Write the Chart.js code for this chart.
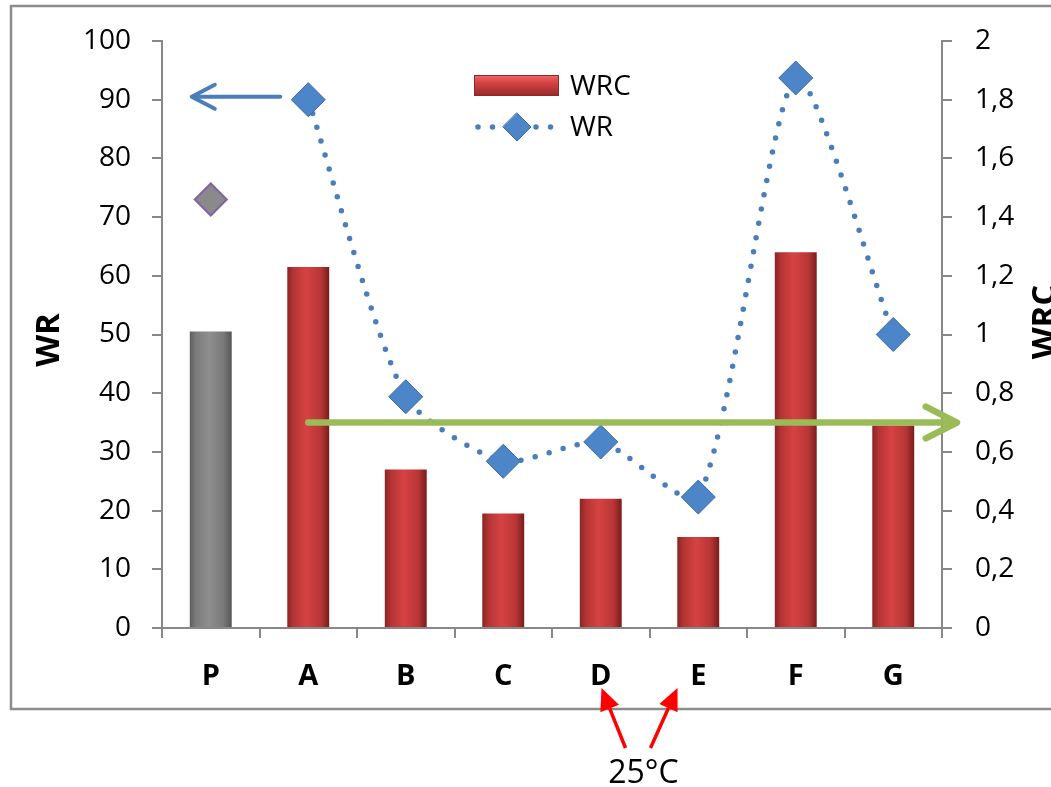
<!DOCTYPE html>
<html>
<head>
<meta charset="utf-8">
<script src="https://cdn.jsdelivr.net/npm/chart.js@4.4.1/dist/chart.umd.min.js"></script>
<style>
  html, body { margin: 0; padding: 0; background: #fff; }
  #wrap { width: 1051px; height: 787px; }
</style>
</head>
<body>
<div id="wrap"><canvas id="chart" width="1051" height="787"></canvas></div>
<script>
// values
var categories = ['P', 'A', 'B', 'C', 'D', 'E', 'F', 'G'];
var wrcValues = [1.01, 1.23, 0.54, 0.39, 0.44, 0.31, 1.28, 0.69];   // bars, right axis
var wrValues = [null, 90, 39.4, 28.4, 31.7, 22.3, 93.7, 50];        // dotted line, left axis
var wrReference = [73, null, null, null, null, null, null, null];   // lone marker over P
var wrcArrowLevel = 0.7;
var wrArrowLevel = 90.5;
var tempLabel = '25°C';

var FONT = "'Open Sans', 'DejaVu Sans', sans-serif";

function commaNum(v) {
    var r = Math.round(v * 10) / 10;
    return r.toString().replace('.', ',');
}

// glossy cylinder look for the bars
function barFill(context) {
    var chart = context.chart;
    var xs = chart.scales.x;
    var gray = context.dataIndex === 0;
    var flat = gray ? '#7c7c7c' : '#c0393b';
    if (!xs || context.type !== 'data') return flat;
    var cx = xs.getPixelForValue(context.dataIndex);
    if (!isFinite(cx)) return flat;
    var half = 21;
    var g = chart.ctx.createLinearGradient(cx - half, 0, cx + half, 0);
    if (gray) {
        g.addColorStop(0, '#5e5e5e');
        g.addColorStop(0.15, '#7c7c7c');
        g.addColorStop(0.45, '#8e8e8e');
        g.addColorStop(0.8, '#7a7a7a');
        g.addColorStop(1, '#555555');
    } else {
        g.addColorStop(0, '#8a2424');
        g.addColorStop(0.15, '#b53434');
        g.addColorStop(0.45, '#d64242');
        g.addColorStop(0.8, '#b83636');
        g.addColorStop(1, '#7a1c1c');
    }
    return g;
}

function arrowHeadOpen(ctx, tx, ty, ang, len, spread) {
    ctx.beginPath();
    ctx.moveTo(tx + Math.cos(ang + spread) * len, ty + Math.sin(ang + spread) * len);
    ctx.lineTo(tx, ty);
    ctx.lineTo(tx + Math.cos(ang - spread) * len, ty + Math.sin(ang - spread) * len);
    ctx.stroke();
}

function diamond(ctx, x, y, r) {
    ctx.beginPath();
    ctx.moveTo(x, y - r);
    ctx.lineTo(x + r, y);
    ctx.lineTo(x, y + r);
    ctx.lineTo(x - r, y);
    ctx.closePath();
}

var frame = {
    id: 'frame',
    beforeDraw: function(chart) {
        var ctx = chart.ctx;
        ctx.save();
        ctx.fillStyle = '#fff';
        ctx.fillRect(0, 0, chart.width, chart.height);
        ctx.strokeStyle = '#8c8c8c';
        ctx.lineWidth = 2.5;
        ctx.strokeRect(11, 6, 1100, 703);
        ctx.restore();
    }
};

var decorations = {
    id: 'decorations',
    afterDatasetsDraw: function(chart) {
        var ctx = chart.ctx;
        var xs = chart.scales.x, ys = chart.scales.y, y1 = chart.scales.y1;
        var area = chart.chartArea;
        ctx.save();

        // axis titles
        ctx.fillStyle = '#000';
        ctx.font = 'bold 33px ' + FONT;
        ctx.textAlign = 'center';
        ctx.textBaseline = 'middle';
        ctx.save();
        ctx.translate(50, 340);
        ctx.rotate(-Math.PI / 2);
        ctx.fillText('WR', 0, 0);
        ctx.restore();
        ctx.save();
        ctx.translate(1046, 322);
        ctx.rotate(-Math.PI / 2);
        ctx.fillText('WRC', 0, 0);
        ctx.restore();

        // legend
        var lx = 474, ly = 75;
        var lg = ctx.createLinearGradient(0, ly, 0, ly + 21);
        lg.addColorStop(0, '#f06a6a');
        lg.addColorStop(0.35, '#d84444');
        lg.addColorStop(1, '#962828');
        ctx.fillStyle = lg;
        ctx.fillRect(lx, ly, 85, 21);
        ctx.strokeStyle = '#8a2a2a';
        ctx.lineWidth = 1;
        ctx.strokeRect(lx + 0.5, ly + 0.5, 84, 20);

        ctx.strokeStyle = '#4a7ebb';
        ctx.lineWidth = 5.5;
        ctx.lineCap = 'round';
        ctx.setLineDash([0, 14.5]);
        ctx.beginPath();
        ctx.moveTo(lx + 4, 127);
        ctx.lineTo(lx + 82, 127);
        ctx.stroke();
        ctx.setLineDash([]);
        diamond(ctx, lx + 43, 127, 14);
        ctx.fillStyle = '#4d86c8';
        ctx.fill();
        ctx.strokeStyle = '#3a6aa8';
        ctx.lineWidth = 1;
        ctx.stroke();

        ctx.fillStyle = '#000';
        ctx.font = '28px ' + FONT;
        ctx.textAlign = 'left';
        ctx.textBaseline = 'middle';
        ctx.fillText('WRC', 570, 87);
        ctx.fillText('WR', 570, 128);

        // blue arrow pointing at the WR axis
        var by = ys.getPixelForValue(wrArrowLevel);
        var bx0 = xs.getPixelForValue(1) - 28;
        var bx1 = xs.getPixelForValue(0) - 19;
        ctx.strokeStyle = '#4a7ebb';
        ctx.lineWidth = 4;
        ctx.lineCap = 'round';
        ctx.lineJoin = 'round';
        ctx.beginPath();
        ctx.moveTo(bx0, by);
        ctx.lineTo(bx1 + 2, by);
        ctx.stroke();
        arrowHeadOpen(ctx, bx1, by, 0, 26, 0.48);

        // green arrow pointing at the WRC axis
        var gy = y1.getPixelForValue(wrcArrowLevel);
        var gx0 = xs.getPixelForValue(1);
        var gx1 = area.right + 15;
        ctx.strokeStyle = '#9bbb59';
        ctx.lineWidth = 6.5;
        ctx.beginPath();
        ctx.moveTo(gx0, gy);
        ctx.lineTo(gx1 - 2, gy);
        ctx.stroke();
        arrowHeadOpen(ctx, gx1, gy, Math.PI, 35, 0.47);

        ctx.restore();
    },
    afterDraw: function(chart) {
        var ctx = chart.ctx;
        var xs = chart.scales.x;
        var mid = (xs.getPixelForValue(4) + xs.getPixelForValue(5)) / 2;
        ctx.save();
        ctx.strokeStyle = '#ff0000';
        ctx.fillStyle = '#ff0000';
        ctx.lineWidth = 3.5;
        var arrows = [[mid - 24, 748, mid - 48, 688], [mid + 1, 748, mid + 28, 688]];
        arrows.forEach(function(a) {
            var ang = Math.atan2(a[3] - a[1], a[2] - a[0]);
            var hl = 22, hw = 10;
            var bx = a[2] - Math.cos(ang) * hl, byy = a[3] - Math.sin(ang) * hl;
            ctx.beginPath();
            ctx.moveTo(a[0], a[1]);
            ctx.lineTo(bx, byy);
            ctx.stroke();
            ctx.beginPath();
            ctx.moveTo(a[2], a[3]);
            ctx.lineTo(bx + Math.sin(ang) * hw, byy - Math.cos(ang) * hw);
            ctx.lineTo(bx - Math.sin(ang) * hw, byy + Math.cos(ang) * hw);
            ctx.closePath();
            ctx.fill();
        });
        ctx.fillStyle = '#000';
        ctx.font = '32px ' + FONT;
        ctx.textAlign = 'center';
        ctx.textBaseline = 'alphabetic';
        ctx.fillText(tempLabel, mid - 6, 783);
        ctx.restore();
    }
};

var ctx = document.getElementById('chart');
var myChart = new Chart(ctx, {
    data: {
        labels: categories,
        datasets: [{
            type: 'line',
            label: 'WR',
            data: wrValues,
            yAxisID: 'y',
            order: 1,
            borderColor: '#4a7ebb',
            borderWidth: 5.5,
            borderDash: [0, 14.5],
            borderCapStyle: 'round',
            tension: 0.22,
            spanGaps: false,
            pointStyle: 'rectRot',
            pointRadius: 17,
            pointBackgroundColor: '#4d86c8',
            pointBorderColor: '#3a6aa8',
            pointBorderWidth: 1
        }, {
            type: 'line',
            label: 'WR P',
            data: wrReference,
            yAxisID: 'y',
            order: 1,
            showLine: false,
            pointStyle: 'rectRot',
            pointRadius: 16,
            pointBackgroundColor: '#8a8a8a',
            pointBorderColor: '#8064a2',
            pointBorderWidth: 2
        }, {
            type: 'bar',
            label: 'WRC',
            data: wrcValues,
            yAxisID: 'y1',
            order: 2,
            backgroundColor: barFill,
            borderWidth: 0,
            barPercentage: 0.43,
            categoryPercentage: 1
        }]
    },
    options: {
        responsive: false,
        animation: false,
        devicePixelRatio: 1,
        layout: { padding: { top: 41, bottom: 79, left: 0, right: 0 } },
        plugins: {
            legend: { display: false },
            tooltip: { enabled: false }
        },
        scales: {
            x: {
                type: 'category',
                grid: { offset: true, drawOnChartArea: false, tickLength: 10, color: '#888', lineWidth: 2 },
                border: { color: '#888', width: 2 },
                ticks: { color: '#000', font: { family: FONT, size: 29, weight: 'bold' }, padding: 21 },
                afterFit: function(scale) { scale.height = 80; }
            },
            y: {
                position: 'left',
                min: 0,
                max: 100,
                grid: { drawOnChartArea: false, tickLength: 10, color: '#888', lineWidth: 2 },
                border: { color: '#888', width: 2 },
                ticks: { stepSize: 10, color: '#000', font: { family: FONT, size: 28 }, padding: 21 },
                afterFit: function(scale) { scale.width = 162; }
            },
            y1: {
                position: 'right',
                min: 0,
                max: 2,
                grid: { drawOnChartArea: false, tickLength: 10, color: '#888', lineWidth: 2 },
                border: { color: '#888', width: 2 },
                ticks: {
                    stepSize: 0.2,
                    color: '#000',
                    font: { family: FONT, size: 28 },
                    padding: 23,
                    callback: function(v) { return commaNum(v); }
                },
                afterFit: function(scale) { scale.width = 109; }
            }
        }
    },
    plugins: [frame, decorations]
});
</script>
</body>
</html>
